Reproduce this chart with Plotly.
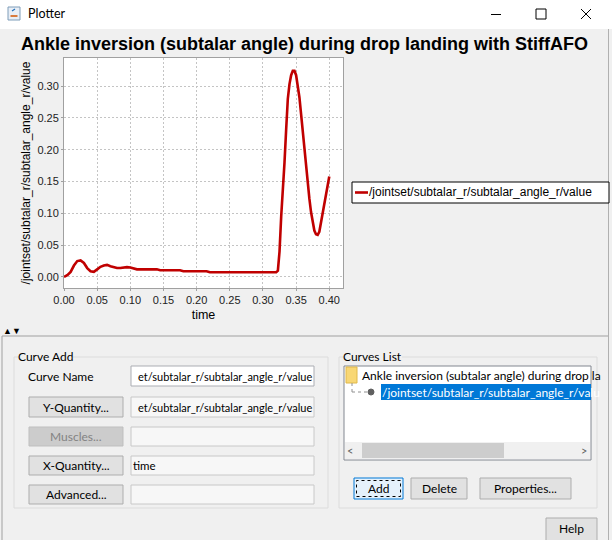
import plotly.graph_objects as go

# ---------------- data ----------------
time = [0.000, 0.005, 0.010, 0.015, 0.020, 0.025, 0.030, 0.035, 0.040, 0.045,
        0.050, 0.055, 0.060, 0.065, 0.070, 0.075, 0.080, 0.085, 0.090, 0.095,
        0.100, 0.105, 0.110, 0.120, 0.130, 0.140, 0.145, 0.160, 0.175, 0.180,
        0.200, 0.215, 0.220, 0.250, 0.280, 0.300, 0.320, 0.3225, 0.325, 0.3275,
        0.330, 0.3325, 0.335, 0.3375, 0.340, 0.3425, 0.345, 0.3475, 0.350, 0.3525,
        0.355, 0.3575, 0.360, 0.3625, 0.365, 0.3675, 0.370, 0.3725, 0.375, 0.3775,
        0.380, 0.3825, 0.385, 0.3875, 0.390, 0.3925, 0.395, 0.3975, 0.400]
subtalar_angle_r = [0.000, 0.003, 0.008, 0.018, 0.025, 0.026, 0.022, 0.014, 0.009, 0.008,
                    0.012, 0.016, 0.018, 0.019, 0.017, 0.015, 0.014, 0.014, 0.015, 0.0155,
                    0.015, 0.013, 0.012, 0.012, 0.012, 0.012, 0.0105, 0.0105, 0.0105, 0.009,
                    0.009, 0.009, 0.0075, 0.0075, 0.0075, 0.0075, 0.0075, 0.010, 0.040, 0.095,
                    0.130, 0.180, 0.232, 0.280, 0.303, 0.317, 0.324, 0.324, 0.317, 0.302,
                    0.282, 0.256, 0.228, 0.198, 0.172, 0.148, 0.123, 0.102, 0.085, 0.073,
                    0.067, 0.066, 0.071, 0.085, 0.100, 0.116, 0.130, 0.145, 0.158]
x_ticks = [0.00, 0.05, 0.10, 0.15, 0.20, 0.25, 0.30, 0.35, 0.40]
y_ticks = [0.00, 0.05, 0.10, 0.15, 0.20, 0.25, 0.30]

title_text = "Ankle inversion (subtalar angle) during drop landing with StiffAFO"
series_name = "/jointset/subtalar_r/subtalar_angle_r/value"
x_label = "time"
line_color = "#c00000"

# ---------------- layout helpers ----------------
W, H = 612, 540
CHART_FONT = "Liberation Sans, Arial, sans-serif"
UI_FONT = "Lato, Noto Sans, sans-serif"
BG = "#f0f0f0"


def px(x):
    return x / W


def py(y):
    return 1 - y / H


shapes = []
annotations = []


def rect(x0, y0, x1, y1, fill=None, line="#adadad", width=1, dash=None):
    shapes.append(dict(type="rect", xref="paper", yref="paper",
                       x0=px(x0), x1=px(x1), y0=py(y1), y1=py(y0),
                       fillcolor=fill if fill else "rgba(0,0,0,0)",
                       line=dict(color=line if line else "rgba(0,0,0,0)",
                                 width=width if line else 0, dash=dash)))


def seg(x0, y0, x1, y1, color="#a0a0a0", width=1, dash=None):
    shapes.append(dict(type="line", xref="paper", yref="paper",
                       x0=px(x0), x1=px(x1), y0=py(y0), y1=py(y1),
                       line=dict(color=color, width=width, dash=dash)))


def text(x, y, s, size=12, color="#000000", anchor="left", font=UI_FONT, bg=None):
    annotations.append(dict(x=px(x), y=py(y), xref="paper", yref="paper",
                            text=s, showarrow=False, xanchor=anchor, yanchor="middle",
                            font=dict(family=font, size=size, color=color),
                            bgcolor=bg, borderpad=0, borderwidth=0))


# ---------------- window chrome ----------------
rect(0, 0, 612, 29, fill="#ffffff", line=None)
rect(8, 7, 20, 20, fill="#e8eef6", line="#7f9db9")
seg(10.5, 16, 17.5, 16, color="#d35400", width=1.5)
seg(12, 11, 15, 9, color="#1e6fb8", width=1.2)
text(28, 14, "Plotter", size=12.5)
seg(491, 14.5, 501, 14.5, color="#000000")
rect(536, 9, 546, 19, line="#000000")
seg(581, 9, 591, 19, color="#000000")
seg(581, 19, 591, 9, color="#000000")
seg(608.5, 29, 608.5, 540, color="#b0b0b0")

# splitter
text(3, 331, "▲▼", size=9, color="#000000", font=CHART_FONT)
seg(2, 336, 608, 336, color="#a0a0a0")
seg(2, 336, 2, 540, color="#a0a0a0")

# Curve Add group
rect(14, 357, 328, 508, line="#dcdcdc")
text(18, 356, "Curve Add", size=12, bg=BG)
text(28, 376, "Curve Name", size=12)
rect(131, 366, 314, 386, fill="#ffffff", line="#abadb3")
text(312, 376, "et/subtalar_r/subtalar_angle_r/value", size=11, anchor="right")

buttons = [("Y-Quantity...", 397, 417, False, "et/subtalar_r/subtalar_angle_r/value"),
           ("Muscles...", 427, 446, True, ""),
           ("X-Quantity...", 456, 475, False, "time"),
           ("Advanced...", 485, 504, False, "")]
for label, y0, y1, disabled, field in buttons:
    if disabled:
        rect(29, y0, 123, y1, fill="#cccccc", line="#bfbfbf")
        text(76, (y0 + y1) / 2, label, size=12, color="#838383", anchor="center")
    else:
        rect(29, y0, 123, y1, fill="#e1e1e1", line="#adadad")
        text(76, (y0 + y1) / 2, label, size=12, anchor="center")
    rect(131, y0, 314, y1, fill="#f7f7f7", line="#c8c8c8")
    if field == "time":
        text(133, (y0 + y1) / 2, field, size=11.5)
    elif field:
        text(312, (y0 + y1) / 2, field, size=11, anchor="right")

# Curves List group
rect(339, 357, 597, 508, line="#dcdcdc")
text(343, 356, "Curves List", size=12, bg=BG)
rect(344, 366, 591, 460, fill="#ffffff", line="#828790")
rect(346, 367, 357, 383, fill="#f8d775", line="#e0b84a")
text(362, 375, "Ankle inversion (subtalar angle) during drop la", size=12)
seg(352, 383, 352, 392, color="#909090", dash="dot")
seg(352, 392, 367, 392, color="#909090", dash="dot")
shapes.append(dict(type="circle", xref="paper", yref="paper",
                   x0=px(368), x1=px(374), y0=py(395), y1=py(389),
                   fillcolor="#606060", line=dict(color="#606060", width=1)))
rect(381, 384, 591, 400, fill="#0078d7", line=None)
text(382, 392, "/jointset/subtalar_r/subtalar_angle_r/valu", size=12, color="#ffffff")
rect(345, 442, 590, 459, fill="#f0f0f0", line=None)
rect(362, 443, 504, 458, fill="#cdcdcd", line=None)
text(350, 450, "<", size=11, color="#606060", anchor="center")
text(584, 450, ">", size=11, color="#606060", anchor="center")

rect(354, 478, 403, 499, fill="#e5f1fb", line="#0078d7")
rect(356.5, 480.5, 400.5, 496.5, line="#000000", dash="dot")
text(378.5, 488.5, "Add", size=12, anchor="center")
rect(411, 478, 467, 499, fill="#e1e1e1", line="#adadad")
text(439, 488.5, "Delete", size=12, anchor="center")
rect(480, 478, 571, 499, fill="#e1e1e1", line="#adadad")
text(525.5, 488.5, "Properties...", size=12, anchor="center")
rect(546, 518, 597, 542, fill="#e1e1e1", line="#adadad")
text(571.5, 528.5, "Help", size=12, anchor="center")

# legend box (JFreeChart style)
rect(352, 182, 609, 203, fill="#ffffff", line="#000000")
seg(355, 192.5, 368, 192.5, color=line_color, width=2.6)
text(369, 192.5, series_name, size=12, font=CHART_FONT)

# ---------------- chart ----------------
fig = go.Figure()
fig.add_trace(go.Scatter(x=time, y=subtalar_angle_r, mode="lines", name=series_name,
                         line=dict(color=line_color, width=2.6), showlegend=False))

axis_common = dict(showgrid=True, gridcolor="#c4c4c4", griddash="2px,2px", gridwidth=1,
                   showline=True, linecolor="#a0a0a0", linewidth=1, mirror=True,
                   ticks="outside", ticklen=2, tickcolor="#a0a0a0", zeroline=False,
                   tickformat=".2f", automargin=False,
                   tickfont=dict(family=CHART_FONT, size=11, color="#222222"))

fig.update_layout(
    width=W, height=H,
    margin=dict(l=0, r=0, t=0, b=0),
    paper_bgcolor=BG, plot_bgcolor="#ffffff",
    title=dict(text=f"<b>{title_text}</b>", x=px(304.5), xref="paper", xanchor="center",
               y=py(44), yref="paper", yanchor="middle",
               font=dict(family=CHART_FONT, size=18, color="#000000")),
    xaxis=dict(domain=[px(64), px(343)], range=[0, 0.4207], tickvals=x_ticks,
               title=dict(text=x_label, standoff=5,
                          font=dict(family=CHART_FONT, size=12.5, color="#000000")),
               **axis_common),
    yaxis=dict(domain=[py(288), py(58)], range=[-0.0173, 0.344], tickvals=y_ticks,
               title=dict(text=series_name, standoff=4,
                          font=dict(family=CHART_FONT, size=12, color="#000000")),
               **axis_common),
    showlegend=False,
    shapes=shapes,
    annotations=annotations,
)

fig.write_html("out.html", config={"displayModeBar": False},
               post_script="document.body.style.margin='0';document.body.style.overflow='hidden';")
